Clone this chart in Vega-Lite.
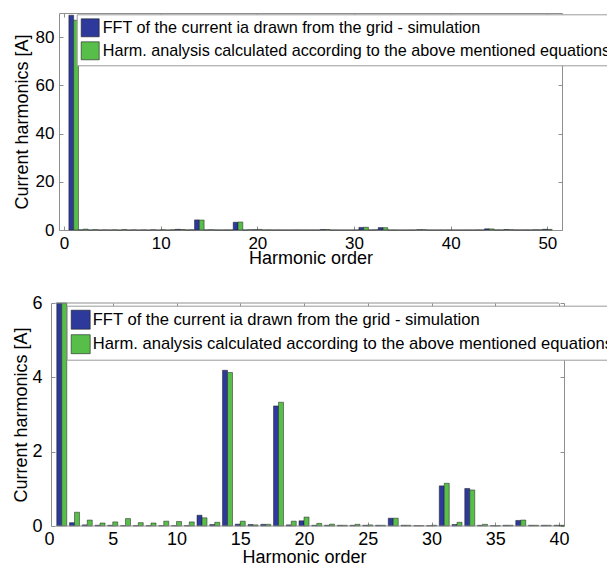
{
  "$schema": "https://vega.github.io/schema/vega-lite/v6.json",
  "padding": {"left": 12, "top": 12, "right": 0, "bottom": 0},
  "background": "white",
  "config": {
    "font": "Liberation Sans",
    "view": {"stroke": "#8f8f8f", "strokeWidth": 1},
    "axis": {"labelFont": "Liberation Sans", "titleFont": "Liberation Sans", "labelColor": "black", "titleColor": "black", "titleFontWeight": "normal", "domain": false, "grid": false, "tickColor": "#8f8f8f", "tickSize": -4, "domainColor": "#8f8f8f"},
    "legend": {"labelFont": "Liberation Sans", "labelColor": "black"}
  },
  "data": {"values": [
    {"h": 1, "fft": 89.1, "harm": 87.0},
    {"h": 2, "fft": 0.09, "harm": 0.37},
    {"h": 3, "fft": 0.03, "harm": 0.16},
    {"h": 4, "fft": 0.02, "harm": 0.08},
    {"h": 5, "fft": 0.02, "harm": 0.11},
    {"h": 6, "fft": 0.01, "harm": 0.20},
    {"h": 7, "fft": 0.01, "harm": 0.09},
    {"h": 8, "fft": 0.01, "harm": 0.08},
    {"h": 9, "fft": 0.01, "harm": 0.13},
    {"h": 10, "fft": 0.01, "harm": 0.12},
    {"h": 11, "fft": 0.01, "harm": 0.11},
    {"h": 12, "fft": 0.29, "harm": 0.22},
    {"h": 13, "fft": 0.04, "harm": 0.10},
    {"h": 14, "fft": 4.19, "harm": 4.13},
    {"h": 15, "fft": 0.05, "harm": 0.13},
    {"h": 16, "fft": 0.04, "harm": 0.03},
    {"h": 17, "fft": 0.045, "harm": 0.045},
    {"h": 18, "fft": 3.23, "harm": 3.33},
    {"h": 19, "fft": 0.03, "harm": 0.13},
    {"h": 20, "fft": 0.14, "harm": 0.24},
    {"h": 21, "fft": 0.02, "harm": 0.07},
    {"h": 22, "fft": 0.02, "harm": 0.05},
    {"h": 23, "fft": 0.02, "harm": 0.02},
    {"h": 24, "fft": 0.02, "harm": 0.045},
    {"h": 25, "fft": 0.02, "harm": 0.03},
    {"h": 26, "fft": 0.02, "harm": 0.02},
    {"h": 27, "fft": 0.21, "harm": 0.21},
    {"h": 28, "fft": 0.02, "harm": 0.02},
    {"h": 29, "fft": 0.01, "harm": 0.01},
    {"h": 30, "fft": 0.01, "harm": 0.02},
    {"h": 31, "fft": 1.08, "harm": 1.15},
    {"h": 32, "fft": 0.04, "harm": 0.10},
    {"h": 33, "fft": 1.01, "harm": 0.97},
    {"h": 34, "fft": 0.02, "harm": 0.045},
    {"h": 35, "fft": 0.01, "harm": 0.01},
    {"h": 36, "fft": 0.02, "harm": 0.02},
    {"h": 37, "fft": 0.15, "harm": 0.16},
    {"h": 38, "fft": 0.02, "harm": 0.02},
    {"h": 39, "fft": 0.02, "harm": 0.02},
    {"h": 40, "fft": 0.02, "harm": 0.02},
    {"h": 41, "fft": 0.02, "harm": 0.02},
    {"h": 42, "fft": 0.02, "harm": 0.02},
    {"h": 43, "fft": 0.05, "harm": 0.05},
    {"h": 44, "fft": 0.5, "harm": 0.45},
    {"h": 45, "fft": 0.05, "harm": 0.05},
    {"h": 46, "fft": 0.2, "harm": 0.15},
    {"h": 47, "fft": 0.05, "harm": 0.05},
    {"h": 48, "fft": 0.05, "harm": 0.05},
    {"h": 49, "fft": 0.1, "harm": 0.1},
    {"h": 50, "fft": 0.3, "harm": 0.25}
  ]},
  "vconcat": [
    {
      "width": 503,
      "height": 217,
      "layer": [
        {
          "mark": {"type": "bar", "width": 4.8, "xOffset": -2.4, "stroke": "#1e1e1e", "strokeWidth": 0.5},
          "encoding": {
            "x": {"field": "h", "type": "quantitative", "scale": {"domain": [0, 51], "nice": false, "zero": false},
                  "axis": {"orient": "bottom", "values": [0, 10, 20, 30, 40, 50], "title": "Harmonic order", "labelFontSize": 17, "titleFontSize": 18, "labelPadding": 9, "titlePadding": -2}},
            "y": {"field": "fft", "type": "quantitative", "scale": {"domain": [0, 90], "nice": false, "clamp": true},
                  "axis": {"orient": "left", "values": [0, 20, 40, 60, 80], "title": "Current harmonics [A]", "labelFontSize": 17, "titleFontSize": 18, "labelPadding": 9, "titlePadding": 4}},
            "color": {"datum": "FFT of the current ia drawn from the grid - simulation",
                      "scale": {"domain": ["FFT of the current ia drawn from the grid - simulation", "Harm. analysis calculated according to the above mentioned equations"], "range": ["#2d3a9c", "#58be4a"]},
                      "legend": {"orient": "none", "legendX": 17.7, "legendY": 1.3, "title": null, "fillColor": "white", "strokeColor": "#9a9a9a", "padding": 4, "symbolType": "square", "symbolSize": 324, "symbolStrokeColor": "#333333", "symbolStrokeWidth": 0.6, "labelFontSize": 16.2, "labelLimit": 1000, "labelOffset": 3, "rowPadding": 2}}
          }
        },
        {
          "mark": {"type": "bar", "width": 4.8, "xOffset": 2.4, "stroke": "#1e1e1e", "strokeWidth": 0.5},
          "encoding": {
            "x": {"field": "h", "type": "quantitative", "axis": {"orient": "top", "values": [0, 10, 20, 30, 40, 50], "labels": false, "title": null}},
            "y": {"field": "harm", "type": "quantitative", "axis": {"orient": "right", "values": [0, 20, 40, 60, 80], "labels": false, "title": null}},
            "color": {"datum": "Harm. analysis calculated according to the above mentioned equations"}
          }
        }
      ],
      "resolve": {"axis": {"x": "independent", "y": "independent"}}
    },
    {
      "width": 505,
      "height": 223,
      "view": {"stroke": null},
      "layer": [
        {
          "transform": [{"filter": "datum.h <= 40"}],
          "mark": {"type": "bar", "width": 5, "xOffset": -2.5, "stroke": "#1e1e1e", "strokeWidth": 0.5},
          "encoding": {
            "x": {"field": "h", "type": "quantitative", "scale": {"domain": [0, 40], "range": [-15, 505], "nice": false, "zero": false},
                  "axis": {"orient": "bottom", "values": [0, 5, 10, 15, 20, 25, 30, 35, 40], "title": "Harmonic order", "labelFontSize": 18, "titleFontSize": 18, "labelPadding": 8, "titlePadding": 0,
                           "tickOpacity": {"condition": {"test": "datum.value === 0", "value": 0}, "value": 1}}},
            "y": {"field": "fft", "type": "quantitative", "scale": {"domain": [0, 6], "nice": false, "clamp": true},
                  "axis": {"orient": "left", "values": [0, 2, 4, 6], "title": "Current harmonics [A]", "labelFontSize": 18, "titleFontSize": 18, "labelPadding": 13, "titlePadding": 1, "offset": 8, "domain": true}},
            "color": {"datum": "FFT of the current ia drawn from the grid - simulation",
                      "scale": {"domain": ["FFT of the current ia drawn from the grid - simulation", "Harm. analysis calculated according to the above mentioned equations"], "range": ["#2d3a9c", "#58be4a"]},
                      "legend": {"orient": "none", "legendX": 7.7, "legendY": 2.7, "title": null, "fillColor": "white", "strokeColor": "#9a9a9a", "padding": 4, "symbolType": "square", "symbolSize": 361, "symbolStrokeColor": "#333333", "symbolStrokeWidth": 0.6, "labelFontSize": 16.6, "labelLimit": 1000, "labelOffset": 2, "rowPadding": 2.5}}
          }
        },
        {
          "transform": [{"filter": "datum.h <= 40"}],
          "mark": {"type": "bar", "width": 5, "xOffset": 2.5, "stroke": "#1e1e1e", "strokeWidth": 0.5},
          "encoding": {
            "x": {"field": "h", "type": "quantitative", "axis": {"orient": "top", "values": [0, 5, 10, 15, 20, 25, 30, 35, 40], "labels": false, "title": null,
                  "tickOpacity": {"condition": {"test": "datum.value === 0", "value": 0}, "value": 1}}},
            "y": {"field": "harm", "type": "quantitative", "axis": {"orient": "right", "values": [0, 2, 4, 6], "labels": false, "title": null, "domain": true}},
            "color": {"datum": "Harm. analysis calculated according to the above mentioned equations"}
          }
        },
        {
          "data": {"values": [{}]},
          "mark": {"type": "rule", "color": "#8f8f8f", "strokeWidth": 1},
          "encoding": {
            "x": {"datum": 0.52, "type": "quantitative", "axis": null},
            "x2": {"datum": 40},
            "y": {"datum": 0, "type": "quantitative", "axis": null}
          }
        },
        {
          "data": {"values": [{}]},
          "mark": {"type": "rule", "color": "#8f8f8f", "strokeWidth": 1},
          "encoding": {
            "x": {"datum": 0.52, "type": "quantitative", "axis": null},
            "x2": {"datum": 40},
            "y": {"datum": 6, "type": "quantitative", "axis": null}
          }
        }
      ],
      "resolve": {"axis": {"x": "independent", "y": "independent"}}
    }
  ],
  "spacing": 26,
  "resolve": {"scale": {"color": "independent"}, "legend": {"color": "independent"}}
}
